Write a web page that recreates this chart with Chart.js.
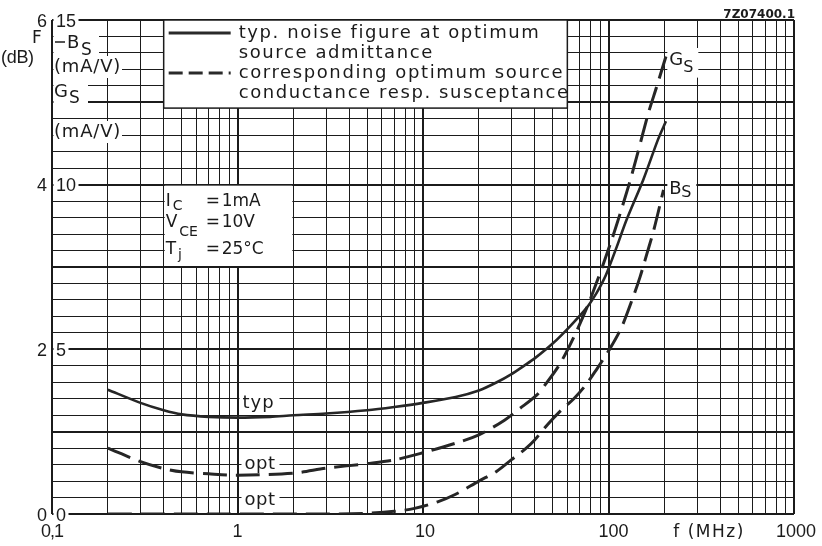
<!DOCTYPE html>
<html>
<head>
<meta charset="utf-8">
<script src="https://cdn.jsdelivr.net/npm/chart.js@4.4.1/dist/chart.umd.min.js"></script>
<style>
  html, body { margin: 0; padding: 0; background: #ffffff; }
  canvas { display: block; }
</style>
</head>
<body>
<canvas id="c" width="822" height="546"></canvas>
<script>
// ---------- data ----------
// typical noise figure F (dB) vs frequency (MHz)
const freqF   = [0.2, 0.3, 0.4, 0.5, 0.7, 1, 1.5, 2, 3, 5, 7, 10, 15, 20, 25, 30, 35, 40, 50, 62, 76, 86, 94, 100, 111, 125, 154, 185, 204];
const noiseF  = [1.51, 1.35, 1.26, 1.21, 1.18, 1.17, 1.18, 1.20, 1.22, 1.26, 1.30, 1.35, 1.42, 1.50, 1.60, 1.70, 1.80, 1.89, 2.07, 2.28, 2.50, 2.68, 2.84, 2.98, 3.25, 3.57, 4.06, 4.55, 4.77];
// optimum source conductance G_S (mA/V)
const freqGs  = [0.2, 0.3, 0.4, 0.5, 0.7, 1, 2, 3, 5, 7, 10, 15, 20, 27.5, 33.4, 41, 45.5, 55, 67.5, 81, 104, 128, 142, 164, 182, 204];
const condGs  = [2.0, 1.59, 1.38, 1.28, 1.22, 1.18, 1.24, 1.39, 1.53, 1.64, 1.86, 2.15, 2.40, 2.85, 3.21, 3.61, 3.92, 4.58, 5.57, 6.62, 8.32, 9.94, 10.85, 12.17, 12.98, 13.89];
// optimum source susceptance B_S (mA/V)
const freqBs  = [0.2, 1, 3, 5, 7, 9, 12, 15, 20, 25, 30, 36, 40, 47, 57, 65, 75, 85, 100, 118, 133, 148, 161, 175, 198];
const suscBs  = [0, 0, 0, 0.02, 0.08, 0.17, 0.37, 0.6, 1.0, 1.3, 1.65, 2.0, 2.25, 2.72, 3.21, 3.5, 3.9, 4.34, 4.95, 5.69, 6.45, 7.2, 7.9, 8.6, 9.84];

// ---------- axes / ticks ----------
const xDecades     = [0.1, 1, 10, 100];
const xMantissas   = [1, 2, 3, 4, 5, 6, 7, 8, 9];
const xLabelValues = [0.1, 1, 10, 100, 300, 1000];
const xLabelTexts  = ['0,1', '1', '10', '100', 'f (MHz)', '1000'];
const yLabelValues = [0, 2, 4, 6];          // F (dB)
const yLabelTexts  = ['0', '2', '4', '6'];
const y2LabelValues = [0, 5, 10, 15];       // mA/V
const y2LabelTexts  = ['0', '5', '10', '15'];
const yMin = 0, yMax = 6, yStep = 0.2;
const y2Min = 0, y2Max = 15;

const legendTexts = ['typ. noise figure at optimum', 'source admittance',
                     'corresponding optimum source', 'conductance resp. susceptance'];
const condTexts = [['I', 'C', '1mA'], ['V', 'CE', '10V'], ['T', 'j', '25°C']];

const INK = '#1b1b1b';
const WORD = '"DejaVu Sans", sans-serif';
const NUM = '"Liberation Sans", Arial, sans-serif';

const xGrid = [];
xDecades.forEach(d => xMantissas.forEach(m => xGrid.push(+(d * m).toPrecision(3))));
xGrid.push(1000);
// no vertical lines between 0.1 and 0.2 except the border
const xGridUsed = xGrid.filter(v => !(v > 0.1 && v < 0.2));
const yGrid = [];
for (let i = 0; i <= Math.round((yMax - yMin) / yStep); i++) yGrid.push(+(yMin + i * yStep).toFixed(1));

const isDecade = v => [0.1, 1, 10, 100, 1000].some(d => Math.abs(v - d) < 1e-9);
const isInt = v => Math.abs(v - Math.round(v)) < 1e-6;

function pts(xs, ys) { return xs.map((x, i) => ({ x: x, y: ys[i] })); }

function txt(ctx, s, x, y, font, align, spacing) {
  ctx.font = font;
  ctx.textAlign = align || 'left';
  ctx.textBaseline = 'alphabetic';
  ctx.letterSpacing = spacing || '0px';
  ctx.fillStyle = INK;
  ctx.fillText(s, x, y);
  ctx.letterSpacing = '0px';
}
function white(ctx, x0, y0, x1, y1) {
  ctx.fillStyle = '#ffffff';
  ctx.fillRect(x0, y0, x1 - x0, y1 - y0);
}

const drawPlugin = {
  id: 'sheetText',
  beforeDatasetsDraw(chart) {
    const { ctx, chartArea: a, scales } = chart;
    const x = scales.x, y = scales.y;
    const L = a.left;
    ctx.save();

    // ---- legend box ----
    const lx0 = x.getPixelForValue(0.4), lx1 = x.getPixelForValue(60);
    const ly0 = y.getPixelForValue(6), ly1 = y.getPixelForValue(4.93);
    white(ctx, lx0, ly0, lx1, ly1);
    ctx.strokeStyle = INK; ctx.lineWidth = 1.5;
    ctx.strokeRect(lx0, ly0, lx1 - lx0, ly1 - ly0);
    ctx.lineWidth = 3; ctx.strokeStyle = '#2a2a2a';
    ctx.beginPath(); ctx.moveTo(lx0 + 5, ly0 + 13); ctx.lineTo(lx0 + 67, ly0 + 13); ctx.stroke();
    ctx.setLineDash([14, 6]);
    ctx.beginPath(); ctx.moveTo(lx0 + 5, ly0 + 53); ctx.lineTo(lx0 + 67, ly0 + 53); ctx.stroke();
    ctx.setLineDash([]);
    legendTexts.forEach((s, i) => txt(ctx, s, lx0 + 75, ly0 + 18 + 20 * i, '18px ' + WORD, 'left', '1.6px'));

    // ---- condition box ----
    const cx0 = x.getPixelForValue(0.4), cx1 = x.getPixelForValue(2);
    const cy0 = y.getPixelForValue(4), cy1 = y.getPixelForValue(3);
    white(ctx, cx0 + 1, cy0 + 1, cx1 - 1, cy1 - 1);
    const rowBase = [21, 42, 69];
    const subDrop = [4, 9, 5];
    condTexts.forEach((r, i) => {
      txt(ctx, r[0], cx0 + 2, cy0 + rowBase[i], '17px ' + WORD);
      ctx.font = '17px ' + WORD;
      const w = ctx.measureText(r[0]).width;
      txt(ctx, r[1], cx0 + 4 + w, cy0 + rowBase[i] + subDrop[i], '14px ' + WORD);
      txt(ctx, '=', cx0 + 42, cy0 + rowBase[i], '17px ' + WORD);
      txt(ctx, r[2], cx0 + 58, cy0 + rowBase[i], '17px ' + WORD);
    });

    // ---- curve labels ----
    const p1 = x.getPixelForValue(1);
    white(ctx, p1 + 2, y.getPixelForValue(1.47), p1 + 42, y.getPixelForValue(1.23));
    txt(ctx, 'typ', p1 + 5, y.getPixelForValue(1.29), '18px ' + WORD, 'left', '1px');
    white(ctx, p1 + 4, y.getPixelForValue(0.72), p1 + 42, y.getPixelForValue(0.48));
    txt(ctx, 'opt', p1 + 7, y.getPixelForValue(0.545), '18px ' + WORD, 'left', '0.5px');
    white(ctx, p1 + 4, y.getPixelForValue(0.28), p1 + 42, y.getPixelForValue(0.05));
    txt(ctx, 'opt', p1 + 7, y.getPixelForValue(0.11), '18px ' + WORD, 'left', '0.5px');

    const p200 = x.getPixelForValue(200);
    white(ctx, p200 + 3, y.getPixelForValue(5.66), p200 + 34, y.getPixelForValue(5.3));
    txt(ctx, 'G', p200 + 5, y.getPixelForValue(5.45), '18px ' + WORD);
    txt(ctx, 'S', p200 + 19, y.getPixelForValue(5.37), '16px ' + WORD);
    white(ctx, p200 + 3, y.getPixelForValue(4.08), p200 + 32, y.getPixelForValue(3.8));
    txt(ctx, 'B', p200 + 5, y.getPixelForValue(3.89), '18px ' + WORD);
    txt(ctx, 'S', p200 + 17, y.getPixelForValue(3.85), '16px ' + WORD);

    // ---- inner left column (mA/V scale) ----
    const y2 = scales.y2;
    y2LabelValues.forEach((v, i) => {
      const py = y2.getPixelForValue(v);
      const s = y2LabelTexts[i];
      const wdt = s.length > 1 ? 25 : 15;
      white(ctx, L + 1.5, py - 9, L + 1.5 + wdt, py + 8);
      txt(ctx, s, L + 4, py + 6.5, '18px ' + NUM);
    });
    // header labels B_S (mA/V) G_S (mA/V)
    white(ctx, L + 1.5, 29, L + 47, 56);
    ctx.strokeStyle = INK; ctx.lineWidth = 1.5;
    ctx.beginPath(); ctx.moveTo(L + 3, 42); ctx.lineTo(L + 13, 42); ctx.stroke();
    txt(ctx, 'B', L + 15, 48, '18px ' + WORD);
    txt(ctx, 'S', L + 29, 55, '17px ' + WORD);
    white(ctx, L + 1.5, 56, L + 70, 78);
    txt(ctx, '(mA/V)', L + 2, 72, '18px ' + WORD, 'left', '0.8px');
    white(ctx, L + 1.5, 79, L + 36, 105);
    txt(ctx, 'G', L + 2, 97, '18px ' + WORD);
    txt(ctx, 'S', L + 17, 103, '17px ' + WORD);
    white(ctx, L + 1.5, 121, L + 70, 143);
    txt(ctx, '(mA/V)', L + 2, 137, '18px ' + WORD, 'left', '0.8px');

    ctx.restore();
  },
  afterDraw(chart) {
    const { ctx, chartArea: a, scales } = chart;
    const x = scales.x, y = scales.y;
    ctx.save();
    // outer left column (F in dB)
    yLabelValues.forEach((v, i) => {
      txt(ctx, yLabelTexts[i], a.left - 5, y.getPixelForValue(v) + 6.5, '18px ' + NUM, 'right');
    });
    txt(ctx, 'F', a.left - 15, 43, '17px ' + WORD, 'center');
    txt(ctx, '(dB)', a.left - 51, 63, '18px ' + NUM, 'left', '-0.3px');
    // x labels
    xLabelValues.forEach((v, i) => {
      const s = xLabelTexts[i];
      let px = x.getPixelForValue(v);
      if (s === '100') px += 5;
      if (s === 'f (MHz)') px += 12;
      if (s === '1000') px += 2;
      if (s === '10') px += 2;
      const font = s === 'f (MHz)' ? '17px ' + WORD : '18px ' + NUM;
      txt(ctx, s, px, a.bottom + 23, font, 'center', s === 'f (MHz)' ? '1.5px' : (s === '0,1' ? '-1px' : '0px'));
    });
    // drawing reference
    txt(ctx, '7Z07400.1', a.right + 1, 18, 'bold 12px ' + WORD, 'right');
    ctx.restore();
  }
};

new Chart(document.getElementById('c'), {
  type: 'line',
  data: {
    datasets: [
      { label: 'typ. noise figure F', data: pts(freqF, noiseF), yAxisID: 'y',
        borderColor: '#262626', borderWidth: 2.6, pointRadius: 0, fill: false,
        tension: 0.3 },
      { label: 'G_S', data: pts(freqGs, condGs), yAxisID: 'y2',
        borderColor: '#262626', borderWidth: 3, borderDash: [24, 9], pointRadius: 0, fill: false,
        tension: 0.3 },
      { label: 'B_S', data: pts(freqBs, suscBs), yAxisID: 'y2',
        borderColor: '#262626', borderWidth: 3, borderDash: [24, 9], pointRadius: 0, fill: false,
        cubicInterpolationMode: 'monotone' }
    ]
  },
  options: {
    responsive: false,
    animation: false,
    devicePixelRatio: 1,
    layout: { padding: { left: 52, right: 28, top: 20, bottom: 32 } },
    plugins: { legend: { display: false }, tooltip: { enabled: false } },
    scales: {
      x: {
        type: 'logarithmic', min: 0.1, max: 1000,
        afterBuildTicks: s => { s.ticks = xGridUsed.map(v => ({ value: v })); },
        ticks: { display: false },
        border: { display: false },
        grid: { drawTicks: false, color: INK,
                lineWidth: c => (c.tick && isDecade(c.tick.value)) ? 2 : 1 }
      },
      y: {
        type: 'linear', min: yMin, max: yMax,
        afterBuildTicks: s => { s.ticks = yGrid.map(v => ({ value: v })); },
        ticks: { display: false },
        border: { display: false },
        grid: { drawTicks: false, color: INK,
                lineWidth: c => (c.tick && isInt(c.tick.value)) ? 2 : 1 }
      },
      y2: {
        type: 'linear', min: y2Min, max: y2Max, display: false, position: 'right'
      }
    }
  },
  plugins: [drawPlugin]
});
</script>
</body>
</html>
